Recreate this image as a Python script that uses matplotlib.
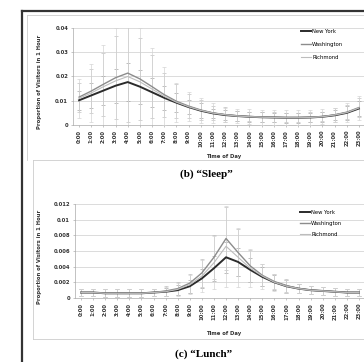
import matplotlib
matplotlib.use('Agg')
import matplotlib.pyplot as plt
from matplotlib.lines import Line2D
import numpy as np

W, H = 364, 362

# ---- data ----
hours = [f'{h}:00' for h in range(24)]
cities = ['New York', 'Washington', 'Richmond']

sleep_ny = [0.0102, 0.0122, 0.0142, 0.0162, 0.0177, 0.0158, 0.0135, 0.0112, 0.0092,
            0.0074, 0.0059, 0.0048, 0.0041, 0.0037, 0.0034, 0.0032, 0.0031, 0.0030,
            0.0030, 0.0031, 0.0034, 0.0040, 0.0050, 0.0068]
sleep_dc = [0.0115, 0.0140, 0.0168, 0.0195, 0.0214, 0.0190, 0.0158, 0.0125, 0.0098,
            0.0078, 0.0062, 0.0050, 0.0043, 0.0038, 0.0035, 0.0033, 0.0032, 0.0031,
            0.0031, 0.0032, 0.0035, 0.0042, 0.0053, 0.0072]
sleep_ri = [0.0110, 0.0132, 0.0158, 0.0182, 0.0200, 0.0178, 0.0148, 0.0118, 0.0094,
            0.0075, 0.0060, 0.0049, 0.0042, 0.0037, 0.0034, 0.0032, 0.0031, 0.0030,
            0.0030, 0.0031, 0.0034, 0.0041, 0.0051, 0.0070]
sleep_err_ny = [0.004, 0.005, 0.006, 0.007, 0.008, 0.007, 0.006, 0.005, 0.004,
                0.003, 0.003, 0.002, 0.002, 0.002, 0.002, 0.002, 0.002, 0.002,
                0.002, 0.002, 0.002, 0.002, 0.003, 0.003]
sleep_err_dc = [0.006, 0.009, 0.013, 0.017, 0.020, 0.017, 0.013, 0.009, 0.007,
                0.005, 0.004, 0.003, 0.003, 0.002, 0.002, 0.002, 0.002, 0.002,
                0.002, 0.002, 0.002, 0.003, 0.003, 0.004]
sleep_err_ri = [0.008, 0.012, 0.017, 0.022, 0.024, 0.022, 0.017, 0.012, 0.008,
                0.006, 0.005, 0.004, 0.003, 0.003, 0.003, 0.003, 0.003, 0.003,
                0.003, 0.003, 0.003, 0.003, 0.004, 0.005]

lunch_ny = [0.0007, 0.0007, 0.0006, 0.0006, 0.0006, 0.0006, 0.0007, 0.0008, 0.0010,
            0.0015, 0.0025, 0.0038, 0.0052, 0.0046, 0.0036, 0.0027, 0.0020, 0.0015,
            0.0012, 0.0010, 0.0009, 0.0008, 0.0007, 0.0007]
lunch_dc = [0.0007, 0.0007, 0.0006, 0.0006, 0.0006, 0.0006, 0.0007, 0.0009, 0.0012,
            0.0019, 0.0032, 0.0052, 0.0076, 0.0058, 0.0041, 0.0029, 0.0021, 0.0016,
            0.0012, 0.0010, 0.0009, 0.0008, 0.0007, 0.0007]
lunch_ri = [0.0007, 0.0007, 0.0006, 0.0006, 0.0006, 0.0006, 0.0007, 0.0008, 0.0011,
            0.0017, 0.0028, 0.0045, 0.0066, 0.0052, 0.0038, 0.0028, 0.0020, 0.0015,
            0.0012, 0.0010, 0.0009, 0.0008, 0.0007, 0.0007]
lunch_err_ny = [0.0005, 0.0005, 0.0005, 0.0005, 0.0005, 0.0005, 0.0005, 0.0005, 0.0006,
                0.0008, 0.0012, 0.0016, 0.0020, 0.0018, 0.0015, 0.0012, 0.0010, 0.0008,
                0.0006, 0.0005, 0.0005, 0.0005, 0.0005, 0.0005]
lunch_err_dc = [0.0005, 0.0005, 0.0005, 0.0005, 0.0005, 0.0005, 0.0005, 0.0006, 0.0008,
                0.0012, 0.0018, 0.0028, 0.0040, 0.0030, 0.0020, 0.0014, 0.0010, 0.0008,
                0.0006, 0.0005, 0.0005, 0.0005, 0.0005, 0.0005]
lunch_err_ri = [0.0005, 0.0005, 0.0005, 0.0005, 0.0005, 0.0005, 0.0005, 0.0006, 0.0008,
                0.0012, 0.0020, 0.0034, 0.0052, 0.0038, 0.0024, 0.0016, 0.0011, 0.0008,
                0.0006, 0.0005, 0.0005, 0.0005, 0.0005, 0.0005]

sleep_ticks = [0, 0.01, 0.02, 0.03, 0.04]
sleep_ticklabels = ['0', '0.01', '0.02', '0.03', '0.04']
lunch_ticks = [0, 0.002, 0.004, 0.006, 0.008, 0.01, 0.012]
lunch_ticklabels = ['0', '0.002', '0.004', '0.006', '0.008', '0.01', '0.012']

LINE_COLORS = ['#2b2b2b', '#8c8c8c', '#bdbdbd']
LINE_WIDTHS = [1.4, 1.0, 0.8]
ERR_COLORS = ['#a5a5a5', '#c2c2c2', '#d4d4d4']

YLABEL = 'Proportion of Visitors in 1 Hour'


def fx(px): return px / W
def fy(py): return 1 - py / H


def draw_panel(fig, rect, series, errors, ticks, ticklabels, leg_anchor, leg_space,
               ylabel_y, xlabel_y):
    ax = fig.add_axes(rect)
    x = np.arange(len(hours))
    for s, e, c, lw, ec in zip(series, errors, LINE_COLORS, LINE_WIDTHS, ERR_COLORS):
        ax.errorbar(x, s, yerr=e, color=c, lw=lw, ecolor=ec, elinewidth=0.5,
                    capsize=1.2, capthick=0.5, zorder=3)
    ax.set_xlim(-0.5, len(hours) - 0.5)
    ax.set_ylim(ticks[0], ticks[-1])
    ax.set_yticks(ticks)
    ax.set_yticklabels(ticklabels, fontsize=3.8, fontweight='bold', color='#333333')
    ax.set_xticks(x)
    ax.set_xticklabels(hours, rotation=90, fontsize=3.8, fontweight='bold', color='#333333')
    ax.tick_params(length=1.5, width=0.4, pad=2, colors='#999999', labelcolor='#333333')
    ax.yaxis.grid(True, color='#d6d6d6', lw=0.6)
    ax.set_axisbelow(True)
    for sp in ['top', 'right']:
        ax.spines[sp].set_visible(False)
    ax.spines['left'].set_color('#aaaaaa')
    ax.spines['left'].set_linewidth(0.5)
    ax.spines['bottom'].set_color('#aaaaaa')
    ax.spines['bottom'].set_linewidth(0.5)

    handles = [Line2D([0], [0], color=c, lw=lw) for c, lw in zip(LINE_COLORS, LINE_WIDTHS)]
    fig.legend(handles, cities, loc='upper left', bbox_to_anchor=leg_anchor,
               frameon=False, fontsize=3.8, labelspacing=leg_space, handlelength=1.8,
               handletextpad=0.3, borderpad=0, borderaxespad=0)

    fig.text(fx(40), fy(ylabel_y), YLABEL, rotation=90, ha='center', va='center',
             fontsize=3.8, fontweight='bold', color='#333333')
    fig.text(fx(224), fy(xlabel_y), 'Time of Day', ha='center', va='center',
             fontsize=3.8, fontweight='bold', color='#333333')
    return ax


fig = plt.figure(figsize=(W / 100, H / 100), dpi=100)

# frames
fig.add_artist(Line2D([fx(22), fx(22)], [fy(11), 0], color='#333333', lw=1.6))
fig.add_artist(Line2D([fx(22), 1], [fy(11), fy(11)], color='#333333', lw=1.6))
fig.add_artist(Line2D([fx(27), fx(27)], [fy(15), fy(160)], color='#cccccc', lw=0.6))
fig.add_artist(Line2D([fx(27), 1], [fy(15), fy(15)], color='#cccccc', lw=0.6))
fig.add_artist(Line2D([fx(33), 1], [fy(160), fy(160)], color='#cccccc', lw=0.6))
fig.add_artist(Line2D([fx(33), fx(33)], [fy(160), fy(339)], color='#cccccc', lw=0.6))
fig.add_artist(Line2D([fx(33), 1], [fy(339), fy(339)], color='#cccccc', lw=0.6))

draw_panel(fig, [fx(73), fy(125), fx(365 - 73), fy(28) - fy(125)],
           [sleep_ny, sleep_dc, sleep_ri], [sleep_err_ny, sleep_err_dc, sleep_err_ri],
           sleep_ticks, sleep_ticklabels, (fx(301), fy(29)), 1.5, 82, 157)
draw_panel(fig, [fx(75), fy(298), fx(365 - 75), fy(204) - fy(298)],
           [lunch_ny, lunch_dc, lunch_ri], [lunch_err_ny, lunch_err_dc, lunch_err_ri],
           lunch_ticks, lunch_ticklabels, (fx(300), fy(210)), 1.1, 257, 334)

fig.text(fx(206), fy(174), '(b) \u201cSleep\u201d', ha='center', va='center',
         fontsize=8, fontweight='bold', family='Liberation Serif')
fig.text(fx(204), fy(354), '(c) \u201cLunch\u201d', ha='center', va='center',
         fontsize=8, fontweight='bold', family='Liberation Serif')

fig.savefig('out.png', dpi=100)
